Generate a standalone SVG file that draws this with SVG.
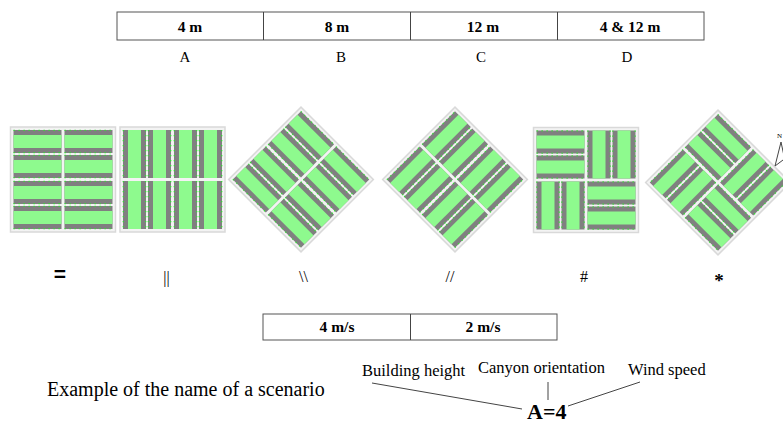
<svg xmlns="http://www.w3.org/2000/svg" xmlns:xlink="http://www.w3.org/1999/xlink" width="783" height="423" viewBox="0 0 783 423">
  <defs>
    <style>
      .bg{fill:#f3f3f3;stroke:#d9d9d9;stroke-width:1.5}
      .bar{fill:#808080}
      .park{fill:#8efa8e}
      .dots{stroke:#33e033;stroke-width:1.3;stroke-dasharray:1.3 3.7;fill:none}
      text{font-family:"Liberation Serif","Times New Roman",serif;fill:#000}
      .cell{fill:#fff;stroke:#555;stroke-width:1}
      .head{font-size:15.5px;font-weight:bold;text-anchor:middle}
      .lbl{font-size:15px;text-anchor:middle}
      .sym{font-size:16px;text-anchor:middle}
      .lead{stroke:#444;stroke-width:1;fill:none}
    </style>
    <!-- one street canyon block: two building rows with a green strip between -->
    <g id="hblock">
      <rect class="bar" width="48" height="23"/>
      <rect class="park" y="5" width="48" height="13"/>
      <path class="dots" d="M0,0.3H48M0,22.7H48"/>
    </g>
    <g id="hquad">
      <use xlink:href="#hblock"/>
      <use xlink:href="#hblock" y="25"/>
    </g>
    <g id="vquad">
      <use xlink:href="#hquad" transform="rotate(90 24 24)"/>
    </g>
    <!-- parallel layout: four quadrants all horizontal -->
    <g id="tile-eq">
      <rect class="bg" width="105" height="105"/>
      <use xlink:href="#hquad" x="3" y="3"/>
      <use xlink:href="#hquad" x="54" y="3"/>
      <use xlink:href="#hquad" x="3" y="54"/>
      <use xlink:href="#hquad" x="54" y="54"/>
    </g>
    <!-- crossed layout: alternating quadrants -->
    <g id="tile-hash">
      <rect class="bg" width="105" height="105"/>
      <use xlink:href="#hquad" x="3" y="3"/>
      <use xlink:href="#vquad" x="54" y="3"/>
      <use xlink:href="#vquad" x="3" y="54"/>
      <use xlink:href="#hquad" x="54" y="54"/>
    </g>
  </defs>

  <rect width="783" height="423" fill="#fff"/>

  <!-- building height table -->
  <g id="height-table">
    <rect class="cell" x="117" y="12" width="587" height="28"/>
    <path class="lead" d="M263.5,12V40M410.5,12V40M557.5,12V40" stroke="#555"/>
    <text class="head" x="190" y="31.5">4 m</text>
    <text class="head" x="337" y="31.5">8 m</text>
    <text class="head" x="483" y="31.5">12 m</text>
    <text class="head" x="630" y="31.5">4 &amp; 12 m</text>
    <text class="lbl" x="185" y="62">A</text>
    <text class="lbl" x="341" y="62">B</text>
    <text class="lbl" x="481" y="62">C</text>
    <text class="lbl" x="627" y="62">D</text>
  </g>

  <!-- canyon orientation layouts -->
  <g id="layout-eq">
    <use xlink:href="#tile-eq" transform="translate(63 179.5) translate(-52.5 -52.5)"/>
    <text class="sym" x="60" y="281" style="font-size:21px;font-weight:bold;font-family:'Liberation Sans',sans-serif">=</text>
  </g>
  <g id="layout-par">
    <use xlink:href="#tile-eq" transform="translate(172.5 179.5) rotate(90) translate(-52.5 -52.5)"/>
    <text class="sym" x="166.5" y="283">||</text>
  </g>
  <g id="layout-back">
    <use xlink:href="#tile-eq" transform="translate(301 179.5) rotate(45) scale(0.975) translate(-52.5 -52.5)"/>
    <text class="sym" x="303.5" y="282">\\</text>
  </g>
  <g id="layout-fwd">
    <use xlink:href="#tile-eq" transform="translate(455 179.5) rotate(-45) scale(0.975) translate(-52.5 -52.5)"/>
    <text class="sym" x="450" y="282">//</text>
  </g>
  <g id="layout-hash">
    <use xlink:href="#tile-hash" transform="translate(586 180) translate(-52.5 -52.5)"/>
    <text class="sym" x="584" y="282">#</text>
  </g>
  <g id="layout-star">
    <use xlink:href="#tile-hash" transform="translate(718 182.5) rotate(45) scale(0.975) translate(-52.5 -52.5)"/>
    <text class="sym" x="719" y="287" style="font-size:19px;font-weight:bold">*</text>
  </g>

  <!-- north arrow -->
  <g id="north-arrow">
    <text x="777" y="138" font-size="7px">N</text>
    <path class="lead" d="M781,142L775,166L783,160M781,142L784,156"/>
  </g>

  <!-- wind speed table -->
  <g id="wind-table">
    <rect class="cell" x="263" y="314" width="294" height="26"/>
    <path class="lead" d="M410.5,314V340" stroke="#555"/>
    <text class="head" x="337" y="332">4 m/s</text>
    <text class="head" x="483" y="332">2 m/s</text>
  </g>

  <!-- scenario name example -->
  <g id="example">
    <text x="47" y="396" font-size="20px">Example of the name of a scenario</text>
    <text x="362" y="376" font-size="16.5px">Building height</text>
    <text x="478" y="373" font-size="16.5px">Canyon orientation</text>
    <text x="628" y="375" font-size="16.5px">Wind speed</text>
    <text x="527" y="419" font-size="22px" font-weight="bold">A=4</text>
  </g>
  <g id="connectors">
    <path class="lead" d="M372,383L522,409"/>
    <path class="lead" d="M548,382V400"/>
    <path class="lead" d="M568,406L640,382"/>
  </g>
</svg>
